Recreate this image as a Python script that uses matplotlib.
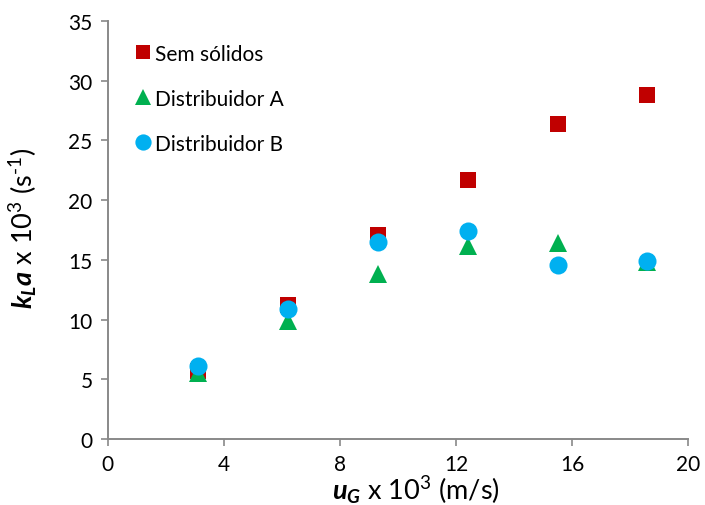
import matplotlib
matplotlib.use("Agg")
import matplotlib.pyplot as plt

plt.rcParams['font.family'] = ['Lato', 'DejaVu Sans']
plt.rcParams['mathtext.fontset'] = 'custom'
plt.rcParams['mathtext.rm'] = 'Lato'
plt.rcParams['mathtext.it'] = 'Lato:italic'
plt.rcParams['mathtext.bf'] = 'Lato:bold'
plt.rcParams['mathtext.bfit'] = 'Lato:bold:italic'

# superficial gas velocity (x 10^3 m/s)
ug = [3.1, 6.2, 9.3, 12.4, 15.5, 18.6]
# kLa (x 10^3 1/s)
sem_solidos = [5.7, 11.25, 17.1, 21.7, 26.4, 28.8]
distribuidor_a = [5.5, 9.9, 13.8, 16.2, 16.45, 14.8]
distribuidor_b = [6.1, 10.9, 16.5, 17.4, 14.55, 14.9]

labels = ['Sem sólidos', 'Distribuidor A', 'Distribuidor B']
colors = ['#C00000', '#00B050', '#00B0F0']
markers = ['s', '^', 'o']
sizes = [11, 13, 13]

x_ticks = [0, 4, 8, 12, 16, 20]
y_ticks = [0, 5, 10, 15, 20, 25, 30, 35]

fig = plt.figure(figsize=(7.05, 5.06), dpi=100)
ax = fig.add_axes([0.153, 0.130, 0.823, 0.827])

for ys, lab, c, m, ms in zip([sem_solidos, distribuidor_a, distribuidor_b],
                             labels, colors, markers, sizes):
    ax.plot(ug, ys, linestyle='none', marker=m, markersize=ms,
            color=c, markeredgewidth=0, label=lab, clip_on=False)

ax.set_xlim(0, 20)
ax.set_ylim(0, 35)
ax.set_xticks(x_ticks)
ax.set_yticks(y_ticks)

axis_gray = '#898989'
for side in ['top', 'right']:
    ax.spines[side].set_visible(False)
for side in ['left', 'bottom']:
    ax.spines[side].set_color(axis_gray)
    ax.spines[side].set_linewidth(1.4)
ax.tick_params(axis='both', direction='out', length=5, width=1.2,
               color=axis_gray, labelsize=15, labelcolor='black')
ax.tick_params(axis='y', pad=6)
ax.tick_params(axis='x', pad=6)

ax.set_xlabel(r'$\mathbfit{u_G}$ x 10$^3$ (m/s)', fontsize=19.5)
ax.set_ylabel(r'$\mathbfit{k_La}$ x 10$^3$ (s$^{\text{-}1}$)', fontsize=19.5)
ax.xaxis.set_label_coords(0.531, -0.080)
ax.yaxis.set_label_coords(-0.118, 0.507)

leg = ax.legend(loc='upper left', bbox_to_anchor=(0.0, 0.99), frameon=False,
                fontsize=15, handletextpad=-0.25, labelspacing=1.2,
                handlelength=1.6, markerscale=0.9)

fig.savefig('out.png', dpi=100)
